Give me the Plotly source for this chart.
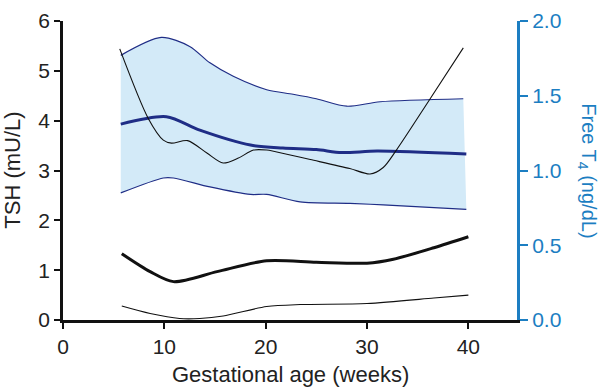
import plotly.graph_objects as go

# ---- data ----
# TSH (mU/L), left axis
tsh_hi_x = [5.6, 8.4, 9.9, 10.7, 12.3, 14.2, 15.8, 17.3, 18.8, 20.1, 22.2, 24.4, 28.3, 30.3, 31.6, 32.9, 36.2, 39.5]
tsh_hi_y = [5.44, 4.05, 3.61, 3.55, 3.60, 3.35, 3.15, 3.25, 3.41, 3.41, 3.32, 3.22, 3.04, 2.93, 3.06, 3.41, 4.43, 5.46]

tsh_med_x = [5.8, 8.6, 10.9, 15.2, 20.1, 25.0, 30.0, 32.6, 36.6, 40.0]
tsh_med_y = [1.33, 0.97, 0.77, 0.97, 1.19, 1.16, 1.14, 1.22, 1.45, 1.67]

tsh_lo_x = [5.8, 8.6, 11.5, 13.5, 15.8, 20.1, 23.4, 30.0, 36.6, 40.0]
tsh_lo_y = [0.28, 0.13, 0.03, 0.03, 0.08, 0.27, 0.31, 0.33, 0.44, 0.50]

# Free T4 (ng/dL), right axis
ft4_hi_x = [5.7, 9.7, 12.5, 14.5, 16.8, 20.1, 22.7, 25.0, 28.0, 31.3, 39.5]
ft4_hi_y = [1.77, 1.89, 1.83, 1.72, 1.63, 1.54, 1.51, 1.48, 1.43, 1.46, 1.48]

ft4_med_x = [5.7, 10.2, 13.5, 18.5, 21.7, 25.0, 27.5, 31.0, 39.8]
ft4_med_y = [1.31, 1.36, 1.27, 1.17, 1.15, 1.14, 1.12, 1.13, 1.11]

ft4_lo_x = [5.7, 9.9, 10.9, 14.5, 18.5, 20.1, 23.4, 28.3, 31.6, 39.8]
ft4_lo_y = [0.85, 0.95, 0.95, 0.89, 0.84, 0.84, 0.79, 0.78, 0.77, 0.74]

x_ticks = [0, 10, 20, 30, 40]
tsh_ticks = [0, 1, 2, 3, 4, 5, 6]
ft4_ticks = [0.0, 0.5, 1.0, 1.5, 2.0]

# ---- styles ----
FONT = "Liberation Sans, Arial, Helvetica, sans-serif"
BLUE_AX = "#1c7ec2"
NAVY = "#1f2d86"
BAND_FILL = "#d3eaf8"
BLACK = "#111111"

fig = go.Figure()

# TSH curves below the band (left axis)
fig.add_trace(go.Scatter(x=tsh_med_x, y=tsh_med_y, yaxis="y", mode="lines",
                         line=dict(color=BLACK, width=3, shape="spline", smoothing=0.8),
                         showlegend=False))
fig.add_trace(go.Scatter(x=tsh_lo_x, y=tsh_lo_y, yaxis="y", mode="lines",
                         line=dict(color=BLACK, width=1.1, shape="spline", smoothing=0.8),
                         showlegend=False))

# band (right axis): fill between lower and upper
fig.add_trace(go.Scatter(x=ft4_lo_x, y=ft4_lo_y, yaxis="y2", mode="lines",
                         line=dict(color=NAVY, width=1.2, shape="spline", smoothing=0.8),
                         hoverinfo="skip", showlegend=False))
fig.add_trace(go.Scatter(x=ft4_hi_x, y=ft4_hi_y, yaxis="y2", mode="lines",
                         line=dict(color=NAVY, width=1.2, shape="spline", smoothing=0.8),
                         fill="tonexty", fillcolor=BAND_FILL,
                         hoverinfo="skip", showlegend=False))
fig.add_trace(go.Scatter(x=ft4_med_x, y=ft4_med_y, yaxis="y2", mode="lines",
                         line=dict(color=NAVY, width=3, shape="spline", smoothing=0.8),
                         showlegend=False))

# upper TSH curve, on a hidden overlay of the left axis so it draws above the band
fig.add_trace(go.Scatter(x=tsh_hi_x, y=tsh_hi_y, yaxis="y3", mode="lines",
                         line=dict(color=BLACK, width=1.1, shape="spline", smoothing=0.8),
                         showlegend=False))

fig.update_layout(
    width=602, height=388,
    margin=dict(l=63, r=85, t=9, b=68),
    paper_bgcolor="white", plot_bgcolor="white",
    font=dict(family=FONT, size=21, color="#222222"),
    xaxis=dict(range=[0, 44.8], tickvals=x_ticks, ticks="outside", ticklen=6,
               tickwidth=1.5, tickcolor=BLACK, ticklabeloverflow="allow",
               showline=True, linecolor=BLACK, linewidth=2.5,
               showgrid=False, zeroline=False, fixedrange=True),
    yaxis=dict(range=[0, 6], tickvals=tsh_ticks, ticks="outside", ticklen=6,
               tickwidth=1.5, tickcolor=BLACK, ticklabeloverflow="allow",
               showline=True, linecolor=BLACK, linewidth=2.5,
               showgrid=False, zeroline=False),
    yaxis2=dict(range=[0, 2], tickvals=ft4_ticks, tickformat=".1f",
                overlaying="y", side="right", ticks="outside", ticklen=8,
                tickwidth=1.5, tickcolor=BLUE_AX, tickfont=dict(color=BLUE_AX),
                ticklabeloverflow="allow",
                showline=True, linecolor=BLUE_AX, linewidth=3,
                showgrid=False, zeroline=False),
    yaxis3=dict(range=[0, 6], overlaying="y", side="left", showline=False,
                showticklabels=False, ticks="", showgrid=False, zeroline=False),
    annotations=[
        dict(text="Gestational age (weeks)", x=0.5, y=-0.182, xref="paper", yref="paper",
             showarrow=False, font=dict(size=22, color="#222222"), xanchor="center", yanchor="middle"),
        dict(text="TSH (mU/L)", x=-0.112, y=0.5, xref="paper", yref="paper", textangle=-90,
             showarrow=False, font=dict(size=22, color="#222222"), xanchor="center", yanchor="middle"),
        dict(text="Free T<sub>4</sub> (ng/dL)", x=1.156, y=0.498, xref="paper", yref="paper", textangle=90,
             showarrow=False, font=dict(size=20, color=BLUE_AX), xanchor="center", yanchor="middle"),
    ],
)

fig.write_html("out.html", config={"displayModeBar": False},
               post_script="document.body.style.margin='0px';")
